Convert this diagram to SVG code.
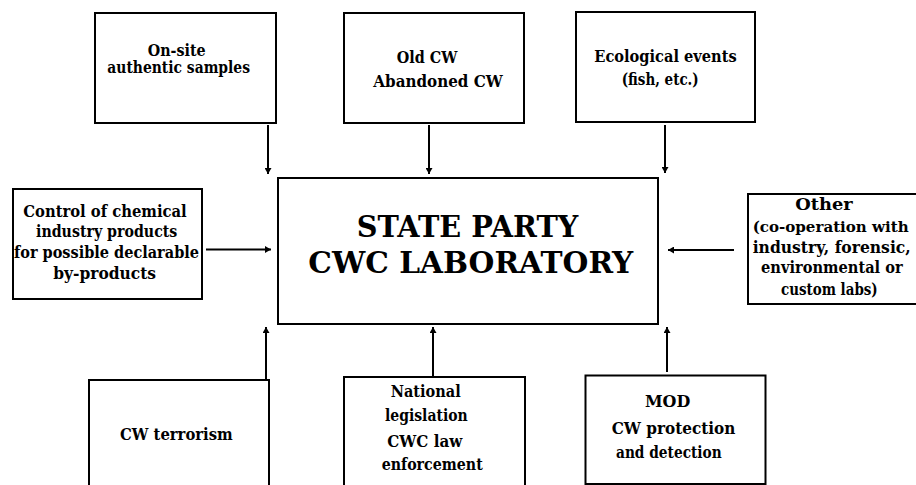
<svg xmlns="http://www.w3.org/2000/svg" width="916" height="485" viewBox="0 0 916 485">
<defs>
<style>
.box{fill:#fff;stroke:#000;stroke-width:2}
text{font-family:'DejaVu Serif',serif;font-weight:700;font-size:16px;fill:#000}
.big{font-size:30px}
.conn{stroke:#000;stroke-width:2;fill:none;marker-end:url(#ah)}
</style>
<marker id="ah" viewBox="0 0 6 7" refX="6" refY="3.5" markerWidth="6" markerHeight="7" markerUnits="userSpaceOnUse" orient="auto">
<path d="M0,0 L6,3.5 L0,7 Z" fill="#000"/>
</marker>
</defs>
<rect width="916" height="485" fill="#fff"/>
<g id="connectors">
<line class="conn" x1="268" y1="125" x2="268" y2="174"/>
<line class="conn" x1="429" y1="125" x2="429" y2="174"/>
<line class="conn" x1="665" y1="125" x2="665" y2="173"/>
<line class="conn" x1="206" y1="249.5" x2="271" y2="249.5"/>
<line class="conn" x1="734" y1="250" x2="668" y2="250"/>
<line class="conn" x1="266" y1="380" x2="266" y2="327"/>
<line class="conn" x1="433" y1="376" x2="433" y2="327"/>
<line class="conn" x1="667" y1="372" x2="667" y2="327"/>
</g>
<g id="onsite">
<rect class="box" x="95" y="13" width="181" height="110"/>
<text x="147.7" y="55.5" textLength="58" lengthAdjust="spacingAndGlyphs">On-site</text>
<text x="107.3" y="73" textLength="142.7" lengthAdjust="spacingAndGlyphs">authentic samples</text>
</g>
<g id="oldcw">
<rect class="box" x="344" y="13" width="180" height="110"/>
<text x="396.7" y="62.7" textLength="60.6" lengthAdjust="spacingAndGlyphs">Old CW</text>
<text x="373.3" y="87" textLength="129.4" lengthAdjust="spacingAndGlyphs">Abandoned CW</text>
</g>
<g id="ecological">
<rect class="box" x="576" y="12" width="179" height="110"/>
<text x="594.3" y="62" textLength="142.4" lengthAdjust="spacingAndGlyphs">Ecological events</text>
<text x="621.7" y="85" textLength="77" lengthAdjust="spacingAndGlyphs">(fish, etc.)</text>
</g>
<g id="center">
<rect class="box" x="278" y="178" width="380" height="146"/>
<text class="big" x="356.7" y="236.7" textLength="221.6" lengthAdjust="spacingAndGlyphs">STATE PARTY</text>
<text class="big" x="308.3" y="273.3" textLength="325" lengthAdjust="spacingAndGlyphs">CWC  LABORATORY</text>
</g>
<g id="control">
<rect class="box" x="13" y="189" width="189" height="110"/>
<text x="23.3" y="216.7" textLength="163.4" lengthAdjust="spacingAndGlyphs">Control  of chemical</text>
<text x="36" y="236.7" textLength="141.3" lengthAdjust="spacingAndGlyphs">industry products</text>
<text x="14" y="258.3" textLength="185" lengthAdjust="spacingAndGlyphs">for possible declarable</text>
<text x="53.3" y="279.3" textLength="102.7" lengthAdjust="spacingAndGlyphs">by-products</text>
</g>
<g id="other">
<rect class="box" x="748" y="194" width="182" height="110"/>
<text x="795.3" y="210" textLength="57.4" lengthAdjust="spacingAndGlyphs">Other</text>
<text x="752.7" y="232.3" style="font-size:14px" textLength="156" lengthAdjust="spacingAndGlyphs">(co-operation with</text>
<text x="752.7" y="253.3" textLength="158" lengthAdjust="spacingAndGlyphs">industry, forensic,</text>
<text x="761" y="273.3" textLength="141.7" lengthAdjust="spacingAndGlyphs">environmental or</text>
<text x="781" y="295" textLength="96.7" lengthAdjust="spacingAndGlyphs">custom labs)</text>
</g>
<g id="terrorism">
<rect class="box" x="89" y="380" width="180" height="120"/>
<text x="120" y="440" textLength="112.7" lengthAdjust="spacingAndGlyphs">CW terrorism</text>
</g>
<g id="national">
<rect class="box" x="344" y="377" width="181" height="123"/>
<text x="390.7" y="397.3" textLength="70" lengthAdjust="spacingAndGlyphs">National</text>
<text x="385" y="420.5" textLength="82.7" lengthAdjust="spacingAndGlyphs">legislation</text>
<text x="387.3" y="447.3" textLength="75" lengthAdjust="spacingAndGlyphs">CWC law</text>
<text x="381.7" y="470" textLength="101" lengthAdjust="spacingAndGlyphs">enforcement</text>
</g>
<g id="mod">
<rect class="box" x="585.5" y="375.5" width="180" height="108.5"/>
<text x="645" y="406.7" textLength="45.3" lengthAdjust="spacingAndGlyphs">MOD</text>
<text x="611.7" y="434.3" textLength="123.6" lengthAdjust="spacingAndGlyphs">CW  protection</text>
<text x="616" y="458.3" textLength="105.7" lengthAdjust="spacingAndGlyphs">and detection</text>
</g>
</svg>
